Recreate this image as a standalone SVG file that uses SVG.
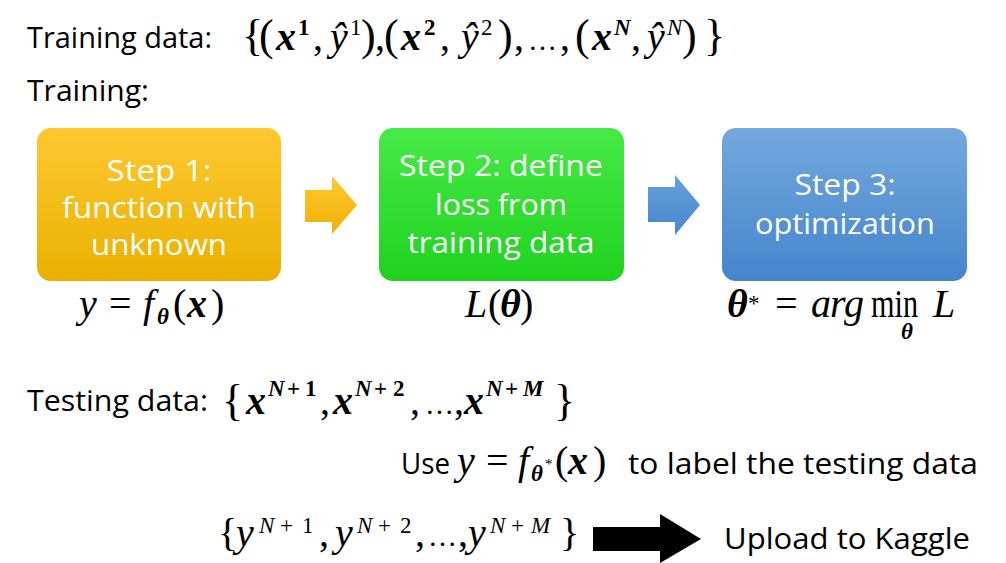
<svg xmlns="http://www.w3.org/2000/svg" width="1006" height="563" viewBox="0 0 1006 563">
<style>
.t{font-family:"Open Sans","Liberation Sans",sans-serif;font-size:29px;fill:#000}
.bt{font-family:"Open Sans","Liberation Sans",sans-serif;font-size:30px;fill:#fff;text-anchor:middle}
.m{font-family:"Liberation Serif","DejaVu Serif",serif;font-size:40px;fill:#000}
.i{font-style:italic}
.b{font-weight:bold}
.bi{font-style:italic;font-weight:bold}
.sup{font-size:23px}
.big{font-size:44px}
.el{font-size:29px}
</style>
<defs>
<linearGradient id="gO" x1="0" y1="0" x2="0" y2="1"><stop offset="0" stop-color="#FFC830"/><stop offset="1" stop-color="#E9B000"/></linearGradient>
<linearGradient id="gG" x1="0" y1="0" x2="0" y2="1"><stop offset="0" stop-color="#46EA46"/><stop offset="1" stop-color="#1FD21F"/></linearGradient>
<linearGradient id="gB" x1="0" y1="0" x2="0" y2="1"><stop offset="0" stop-color="#73A8DC"/><stop offset="1" stop-color="#4585CD"/></linearGradient>
<linearGradient id="gOA" x1="0" y1="0" x2="0" y2="1"><stop offset="0" stop-color="#FFC933"/><stop offset="1" stop-color="#EFB000"/></linearGradient>
<linearGradient id="gBA" x1="0" y1="0" x2="0" y2="1"><stop offset="0" stop-color="#66A0D9"/><stop offset="1" stop-color="#4587CF"/></linearGradient>
</defs>

<g id="header">
<text class="t" x="27" y="48" textLength="185" lengthAdjust="spacingAndGlyphs">Training data:</text>
<text class="m">
<tspan class="big" x="242" y="50">{</tspan><tspan class="big" x="259">(</tspan><tspan class="bi" x="276">x</tspan><tspan class="b sup" x="298" y="35">1</tspan><tspan x="313" y="50">,</tspan><tspan class="i" x="330">ŷ</tspan><tspan class="sup" x="350" y="35">1</tspan><tspan class="big" x="361" y="50">)</tspan><tspan x="375">,</tspan><tspan class="big" x="384">(</tspan><tspan class="bi" x="401">x</tspan><tspan class="b sup" x="424" y="35">2</tspan><tspan x="440" y="50">,</tspan><tspan class="i" x="461">ŷ</tspan><tspan class="sup" x="481" y="35">2</tspan><tspan class="big" x="498" y="50">)</tspan><tspan x="514">,</tspan><tspan class="el" x="528">…</tspan><tspan x="560">,</tspan><tspan class="big" x="575">(</tspan><tspan class="bi" x="592">x</tspan><tspan class="bi sup" x="614" y="35">N</tspan><tspan x="631" y="50">,</tspan><tspan class="i" x="647">ŷ</tspan><tspan class="i sup" x="667" y="35">N</tspan><tspan class="big" x="682" y="50">)</tspan><tspan class="big" x="704">}</tspan>
</text>
<text class="t" x="27" y="101" textLength="122" lengthAdjust="spacingAndGlyphs">Training:</text>
</g>

<g id="step1">
<rect x="37" y="128" width="244" height="153" rx="14" fill="url(#gO)"/>
<text class="bt" x="159" y="181" textLength="105" lengthAdjust="spacingAndGlyphs">Step 1:</text>
<text class="bt" x="159" y="218" textLength="194" lengthAdjust="spacingAndGlyphs">function with</text>
<text class="bt" x="159" y="255" textLength="136" lengthAdjust="spacingAndGlyphs">unknown</text>
<text class="m"><tspan class="i" x="79" y="317">y</tspan><tspan x="109">=</tspan><tspan class="i" x="143">f</tspan><tspan class="bi sup" x="157" y="324">θ</tspan><tspan x="173" y="317">(</tspan><tspan class="bi" x="187">x</tspan><tspan x="211">)</tspan></text>
</g>

<g id="step2">
<rect x="379" y="128" width="245" height="153" rx="14" fill="url(#gG)"/>
<text class="bt" x="501" y="176" textLength="204" lengthAdjust="spacingAndGlyphs">Step 2: define</text>
<text class="bt" x="501" y="215" textLength="132" lengthAdjust="spacingAndGlyphs">loss from</text>
<text class="bt" x="501" y="253" textLength="187" lengthAdjust="spacingAndGlyphs">training data</text>
<text class="m"><tspan class="i" x="465" y="317">L</tspan><tspan x="488">(</tspan><tspan class="bi" x="500">θ</tspan><tspan x="520">)</tspan></text>
</g>

<g id="step3">
<rect x="722" y="128" width="245" height="153" rx="14" fill="url(#gB)"/>
<text class="bt" x="845" y="195" textLength="101" lengthAdjust="spacingAndGlyphs">Step 3:</text>
<text class="bt" x="845" y="234" textLength="180" lengthAdjust="spacingAndGlyphs">optimization</text>
<text class="m"><tspan class="bi" x="727" y="317">θ</tspan><tspan class="sup" x="748" y="311">*</tspan><tspan x="775" y="317">=</tspan><tspan class="i" x="811">a</tspan><tspan class="i" x="830">r</tspan><tspan class="i" x="844">g</tspan></text>
<text class="m" x="871" y="317" font-size="36" textLength="47" lengthAdjust="spacingAndGlyphs">min</text>
<text class="m i" x="933" y="317">L</text>
<text class="m bi sup" x="907" y="339" text-anchor="middle">θ</text>
</g>

<g id="testing">
<text class="t" x="27" y="411" textLength="181" lengthAdjust="spacingAndGlyphs">Testing data:</text>
<text class="m">
<tspan class="big" font-size="48" x="222" y="415">{</tspan><tspan class="bi" x="246" y="414">x</tspan><tspan class="bi sup" x="268" y="396">N</tspan><tspan class="b sup" x="287">+</tspan><tspan class="b sup" x="305">1</tspan><tspan x="320" y="414">,</tspan><tspan class="bi" x="333">x</tspan><tspan class="bi sup" x="355" y="396">N</tspan><tspan class="b sup" x="374">+</tspan><tspan class="b sup" x="393">2</tspan><tspan x="410" y="414">,</tspan><tspan class="el" x="425">…</tspan><tspan x="454">,</tspan><tspan class="bi" x="464">x</tspan><tspan class="bi sup" x="486" y="396">N</tspan><tspan class="b sup" x="505">+</tspan><tspan class="bi sup" x="523">M</tspan><tspan class="big" font-size="48" x="554" y="415">}</tspan>
</text>
</g>

<g id="use">
<text class="t" x="401" y="474" textLength="49" lengthAdjust="spacingAndGlyphs">Use</text>
<text class="m"><tspan class="i" x="457" y="474">y</tspan><tspan x="486">=</tspan><tspan class="i" x="518">f</tspan><tspan class="bi sup" x="531" y="481">θ</tspan><tspan font-size="15" x="545" y="469">*</tspan><tspan x="555" y="474">(</tspan><tspan class="bi" x="568">x</tspan><tspan x="593">)</tspan></text>
<text class="t" x="628" y="474" textLength="350" lengthAdjust="spacingAndGlyphs">to label the testing data</text>
</g>

<g id="outputs">
<text class="m">
<tspan x="218" y="546">{</tspan><tspan class="i" x="236">y</tspan><tspan class="i sup" x="259" y="533">N</tspan><tspan class="sup" x="280">+</tspan><tspan class="sup" x="302">1</tspan><tspan x="319" y="546">,</tspan><tspan class="i" x="335">y</tspan><tspan class="i sup" x="357" y="533">N</tspan><tspan class="sup" x="378">+</tspan><tspan class="sup" x="400">2</tspan><tspan x="415" y="546">,</tspan><tspan class="el" x="428">…</tspan><tspan x="458">,</tspan><tspan class="i" x="468">y</tspan><tspan class="i sup" x="490" y="533">N</tspan><tspan class="sup" x="511">+</tspan><tspan class="i sup" x="531">M</tspan><tspan x="560" y="546">}</tspan>
</text>
</g>

<g id="kaggle">
<text class="t" x="724" y="549" textLength="246" lengthAdjust="spacingAndGlyphs">Upload to Kaggle</text>
</g>

<g id="connectors">
<path d="M305,190 H332 V176 L357,205 L332,234 V222 H305 Z" fill="url(#gOA)"/>
<path d="M648,187 H675 V175 L700,205 L675,235 V222 H648 Z" fill="url(#gBA)"/>
<path d="M593,527 H660 V514 L701,539 L660,563 V551 H593 Z" fill="#000"/>
</g>
</svg>
